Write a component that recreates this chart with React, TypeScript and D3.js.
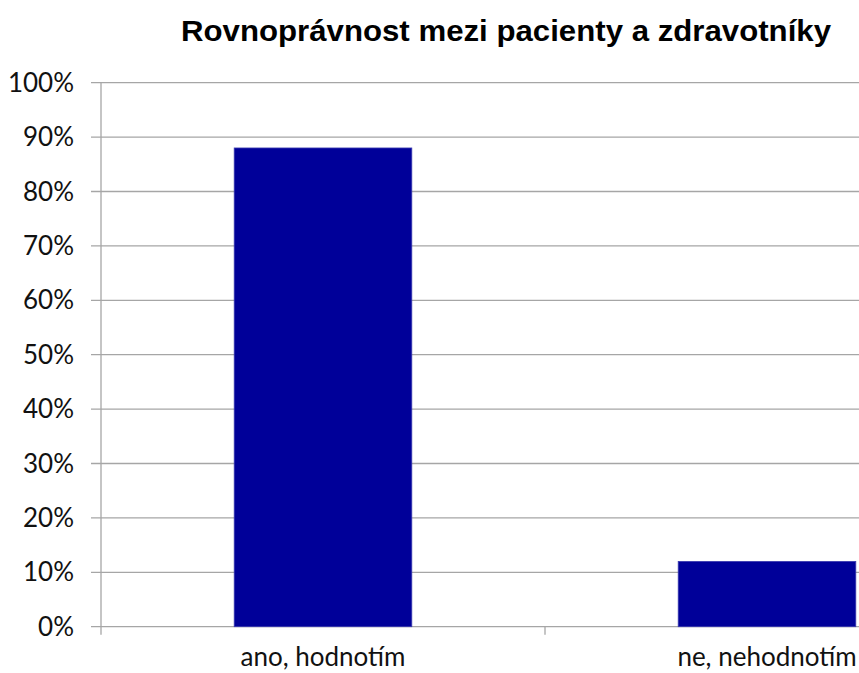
import React from "react";
import * as d3 from "d3";

const title = "Rovnoprávnost mezi pacienty a zdravotníky";
const categories = ["ano, hodnotím", "ne, nehodnotím"];
const shares = [0.88, 0.12];
const yTicks = [0, 0.1, 0.2, 0.3, 0.4, 0.5, 0.6, 0.7, 0.8, 0.9, 1.0];

const W = 859;
const H = 673;
const left = 101;
const top = 82.7;
const bottom = 626.7;
// the plot area runs past the right edge of the view
const plotRight = 989;

const labelFont = "Lato, 'Noto Sans', sans-serif";

export default function App() {
  const y = d3.scaleLinear().domain([0, 1]).range([bottom, top]);
  const x = d3
    .scaleBand<string>()
    .domain(categories)
    .range([left, plotRight])
    .paddingInner(0.6)
    .paddingOuter(0.3);
  const step = x.step();
  const fmt = d3.format(".0%");
  const grid = "#a6a6a6";

  return (
    <svg
      width={W}
      height={H}
      style={{ position: "absolute", left: 0, top: 0, display: "block", background: "#fff" }}
    >
      <text
        x={181}
        y={41}
        fontFamily="'Liberation Sans', Arial, sans-serif"
        fontWeight="bold"
        fontSize={29}
        textLength={650}
        lengthAdjust="spacingAndGlyphs"
        fill="#000"
      >
        {title}
      </text>

      {yTicks.map((t) => (
        <g key={t}>
          <line x1={left - 10} x2={plotRight} y1={y(t)} y2={y(t)} stroke={grid} strokeWidth={1.3} />
          <text
            x={74}
            y={y(t)}
            dy="0.35em"
            textAnchor="end"
            fontFamily={labelFont}
            fontSize={26}
            fill="#111"
          >
            {fmt(t)}
          </text>
        </g>
      ))}

      {categories.map((c, i) => (
        <rect
          key={c}
          x={x(c)}
          y={y(shares[i])}
          width={x.bandwidth()}
          height={bottom - y(shares[i])}
          fill="#000099"
          stroke="#3a3ab0"
          strokeWidth={0.8}
        />
      ))}

      <line x1={left} x2={left} y1={top} y2={bottom + 8} stroke={grid} strokeWidth={1.3} />
      {categories.map((c, i) => (
        <line
          key={"t" + c}
          x1={left + step * (i + 1)}
          x2={left + step * (i + 1)}
          y1={bottom}
          y2={bottom + 8}
          stroke={grid}
          strokeWidth={1.3}
        />
      ))}

      {categories.map((c) => (
        <text
          key={"l" + c}
          x={(x(c) ?? 0) + x.bandwidth() / 2}
          y={666}
          textAnchor="middle"
          fontFamily={labelFont}
          fontSize={26}
          fill="#111"
        >
          {c}
        </text>
      ))}
    </svg>
  );
}
